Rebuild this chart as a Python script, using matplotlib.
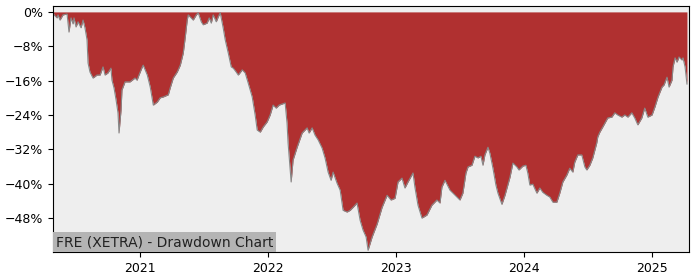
import numpy as np
import pandas as pd
import matplotlib
matplotlib.use("Agg")
import matplotlib.pyplot as plt
import matplotlib.dates as mdates
from matplotlib.ticker import FuncFormatter

# drawdown of FRE (XETRA)
# time as decimal years, drawdown in percent
years = [
    2020.320, 2020.328, 2020.352, 2020.359, 2020.375, 2020.398, 2020.430, 2020.445,
    2020.461, 2020.477, 2020.484, 2020.500, 2020.516, 2020.539, 2020.555, 2020.570,
    2020.586, 2020.594, 2020.609, 2020.633, 2020.664, 2020.688, 2020.711, 2020.727,
    2020.750, 2020.773, 2020.781, 2020.797, 2020.813, 2020.828, 2020.836, 2020.852,
    2020.859, 2020.883, 2020.922, 2020.961, 2020.977, 2020.992, 2021.016, 2021.023,
    2021.055, 2021.078, 2021.102, 2021.133, 2021.156, 2021.180, 2021.219, 2021.234,
    2021.258, 2021.289, 2021.313, 2021.336, 2021.352, 2021.367, 2021.375, 2021.398,
    2021.414, 2021.438, 2021.453, 2021.477, 2021.492, 2021.523, 2021.539, 2021.555,
    2021.570, 2021.594, 2021.609, 2021.625, 2021.648, 2021.664, 2021.688, 2021.711,
    2021.727, 2021.750, 2021.766, 2021.797, 2021.820, 2021.844, 2021.875, 2021.898,
    2021.914, 2021.938, 2021.961, 2021.992, 2022.016, 2022.039, 2022.063, 2022.086,
    2022.133, 2022.148, 2022.156, 2022.180, 2022.195, 2022.227, 2022.266, 2022.305,
    2022.320, 2022.344, 2022.367, 2022.391, 2022.422, 2022.445, 2022.469, 2022.492,
    2022.508, 2022.539, 2022.563, 2022.586, 2022.617, 2022.641, 2022.664, 2022.695,
    2022.719, 2022.742, 2022.766, 2022.781, 2022.813, 2022.852, 2022.891, 2022.930,
    2022.961, 2022.992, 2023.016, 2023.047, 2023.070, 2023.094, 2023.133, 2023.148,
    2023.172, 2023.203, 2023.242, 2023.281, 2023.320, 2023.344, 2023.359, 2023.383,
    2023.422, 2023.477, 2023.500, 2023.523, 2023.547, 2023.563, 2023.594, 2023.617,
    2023.641, 2023.664, 2023.680, 2023.695, 2023.719, 2023.734, 2023.758, 2023.781,
    2023.797, 2023.828, 2023.852, 2023.891, 2023.914, 2023.945, 2023.961, 2023.992,
    2024.016, 2024.031, 2024.047, 2024.070, 2024.102, 2024.125, 2024.148, 2024.180,
    2024.203, 2024.227, 2024.258, 2024.281, 2024.305, 2024.336, 2024.359, 2024.383,
    2024.398, 2024.422, 2024.453, 2024.477, 2024.492, 2024.516, 2024.539, 2024.570,
    2024.578, 2024.594, 2024.617, 2024.656, 2024.688, 2024.711, 2024.734, 2024.766,
    2024.789, 2024.813, 2024.844, 2024.867, 2024.891, 2024.922, 2024.945, 2024.969,
    2025.000, 2025.023, 2025.047, 2025.078, 2025.094, 2025.117, 2025.133, 2025.156,
    2025.164, 2025.180, 2025.195, 2025.211, 2025.234, 2025.242, 2025.258, 2025.273,
]
drawdown = [
    0.0, -0.7, -1.4, -0.7, -1.9, -0.7, -0.5, -4.7,
    -1.4, -2.8, -1.4, -3.5, -2.3, -3.7, -1.9, -3.7,
    -6.5, -11.9, -14.0, -15.4, -14.7, -14.7, -12.8, -14.7,
    -14.2, -13.1, -15.9, -17.7, -20.5, -23.5, -28.2, -22.8,
    -18.2, -16.3, -16.3, -15.4, -15.9, -14.7, -12.8, -12.4,
    -14.7, -17.5, -21.7, -21.0, -20.0, -19.8, -19.3, -17.7,
    -15.4, -14.0, -12.4, -9.6, -5.8, -1.9, -0.7, -1.4,
    -1.9, -0.7, -0.2, -2.3, -3.0, -2.6, -1.4, -2.6,
    -0.7, -2.3, -1.2, -0.2, -3.7, -6.5, -9.6, -12.8,
    -13.1, -14.0, -14.7, -13.5, -14.2, -16.6, -19.8, -24.0,
    -27.5, -28.0, -26.8, -25.6, -24.0, -21.7, -22.4, -21.7,
    -21.2, -25.9, -30.5, -39.6, -34.5, -31.5, -28.2, -27.0,
    -28.2, -27.0, -28.7, -29.8, -31.7, -34.0, -37.3, -39.2,
    -37.3, -39.9, -41.5, -46.2, -46.6, -46.2, -45.5, -44.5,
    -48.5, -50.8, -52.4, -55.5, -52.4, -49.4, -45.5, -42.7,
    -43.8, -43.4, -39.6, -38.7, -41.0, -39.6, -37.5, -40.8,
    -45.0, -48.0, -47.3, -45.0, -43.8, -44.5, -40.8, -39.2,
    -41.5, -43.1, -43.8, -42.2, -37.5, -36.1, -35.7, -33.6,
    -34.0, -33.6, -35.7, -33.3, -31.5, -32.9, -36.4, -40.3,
    -42.2, -44.8, -42.7, -38.5, -35.2, -36.1, -36.8, -35.9,
    -35.7, -37.5, -40.3, -40.1, -42.2, -41.0, -42.0, -42.7,
    -43.1, -44.3, -44.3, -42.2, -39.6, -38.0, -36.4, -37.3,
    -35.0, -33.3, -33.3, -36.1, -36.8, -35.7, -34.0, -30.5,
    -29.1, -28.0, -26.8, -24.7, -24.5, -23.5, -24.0, -24.5,
    -24.0, -24.5, -23.5, -24.7, -26.3, -24.7, -22.4, -24.5,
    -24.0, -22.1, -19.8, -17.5, -17.0, -15.2, -17.5, -15.9,
    -12.8, -10.7, -11.7, -10.5, -11.2, -10.7, -12.8, -16.8,
]
y_ticks = [0, -8, -16, -24, -32, -40, -48]
label = "FRE (XETRA) - Drawdown Chart"


def to_date(y):
    yr = int(np.floor(y))
    return pd.Timestamp(year=yr, month=1, day=1) + pd.Timedelta(days=(y - yr) * 365.25)


dates = [to_date(y) for y in years]
dd = np.array(drawdown)

fig = plt.figure(figsize=(7, 2.8), dpi=100)
ax = fig.add_axes([0.0757, 0.1, 0.9086, 0.879])
ax.set_facecolor("#eeeeee")

ax.fill_between(dates, dd, 0, color="#b03030", linewidth=0)
ax.plot(dates, dd, color="#888888", linewidth=0.8)

ax.set_xlim(to_date(2020.320), to_date(2025.289))
ax.set_ylim(-55.9, 1.4)
ax.set_yticks(y_ticks)
ax.yaxis.set_major_formatter(FuncFormatter(lambda v, p: "%d%%" % v if v == 0 else "\u2212%d%%" % abs(v)))
ax.xaxis.set_major_locator(mdates.YearLocator())
ax.xaxis.set_major_formatter(mdates.DateFormatter("%Y"))
ax.tick_params(labelsize=9)

ax.text(0.004, 0.012, label, transform=ax.transAxes, fontsize=10, color="#222222",
        ha="left", va="bottom",
        bbox=dict(facecolor="#b4b4b4", edgecolor="none", pad=2))

plt.savefig("out.png")
